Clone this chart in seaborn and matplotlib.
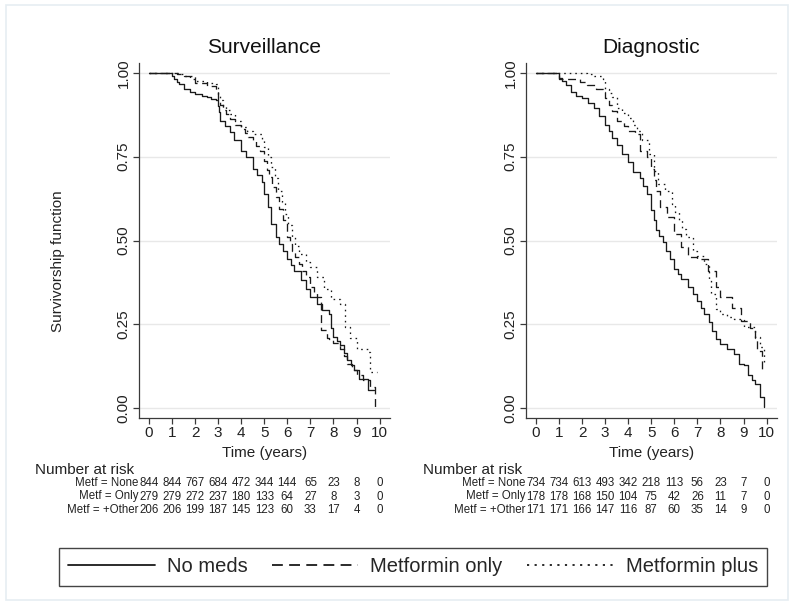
import numpy as np
import pandas as pd
import matplotlib
matplotlib.use('Agg')
import matplotlib.pyplot as plt
import matplotlib.transforms as mtrans
from matplotlib.patches import Rectangle
import seaborn as sns

# survival curves (step points: time in years, survivorship)
surv_none_t = [0, 1.0, 1.1, 1.2, 1.3, 1.5, 1.8, 2.0, 2.3, 2.5, 2.7, 2.9, 3.0, 3.05, 3.1, 3.3, 3.5, 3.7,
               4.0, 4.2, 4.5, 4.7, 4.9, 5.0, 5.15, 5.3, 5.5, 5.65, 5.8, 6.0, 6.15, 6.3, 6.6, 6.8, 7.0,
               7.3, 7.5, 7.8, 7.9, 8.0, 8.15, 8.3, 8.45, 8.6, 8.75, 8.9, 9.1, 9.5, 9.75]
surv_none_s = [1, 0.99, 0.98, 0.972, 0.965, 0.951, 0.944, 0.937, 0.932, 0.927, 0.923, 0.919, 0.90,
               0.882, 0.857, 0.84, 0.822, 0.80, 0.768, 0.75, 0.713, 0.695, 0.674, 0.639, 0.6, 0.55,
               0.51, 0.49, 0.47, 0.445, 0.428, 0.41, 0.381, 0.356, 0.331, 0.312, 0.292, 0.282, 0.24,
               0.212, 0.2, 0.188, 0.165, 0.143, 0.128, 0.113, 0.088, 0.054, 0.054]
surv_only_t = [0, 1.2, 1.5, 1.8, 2.0, 2.5, 2.9, 3.0, 3.1, 3.2, 3.35, 3.5, 3.75, 4.0, 4.15, 4.3, 4.5,
               4.65, 4.8, 5.0, 5.1, 5.2, 5.35, 5.5, 5.65, 5.8, 6.0, 6.1, 6.2, 6.35, 6.5, 6.65, 6.8,
               7.0, 7.15, 7.3, 7.45, 7.7, 7.8, 8.0, 8.3, 8.45, 8.6, 8.8, 9.0, 9.3, 9.6, 9.8]
surv_only_s = [1, 0.995, 0.99, 0.98, 0.97, 0.96, 0.95, 0.92, 0.905, 0.89, 0.876, 0.862, 0.845, 0.832,
               0.82, 0.807, 0.797, 0.782, 0.768, 0.738, 0.71, 0.688, 0.66, 0.629, 0.595, 0.56, 0.51,
               0.49, 0.47, 0.45, 0.43, 0.41, 0.39, 0.36, 0.345, 0.331, 0.232, 0.21, 0.205, 0.195,
               0.178, 0.155, 0.133, 0.115, 0.098, 0.083, 0.063, 0.0]
surv_plus_t = [0, 1.3, 1.5, 2.0, 2.5, 2.9, 3.0, 3.1, 3.2, 3.35, 3.5, 3.75, 4.0, 4.25, 4.5, 4.9, 5.0,
               5.15, 5.3, 5.45, 5.6, 5.75, 5.9, 6.05, 6.2, 6.35, 6.5, 6.8, 7.0, 7.3, 7.6, 7.9, 8.3,
               8.5, 8.7, 9.0, 9.5, 9.6, 9.9]
surv_plus_s = [1, 0.995, 0.99, 0.975, 0.97, 0.966, 0.937, 0.92, 0.90, 0.888, 0.877, 0.857, 0.837,
               0.827, 0.817, 0.80, 0.778, 0.75, 0.718, 0.685, 0.649, 0.615, 0.579, 0.545, 0.51,
               0.485, 0.46, 0.436, 0.42, 0.39, 0.356, 0.326, 0.31, 0.242, 0.21, 0.178, 0.168,
               0.108, 0.108]

diag_none_t = [0, 1.0, 1.15, 1.3, 1.5, 1.75, 2.0, 2.25, 2.5, 2.75, 3.0, 3.15, 3.3, 3.5, 3.75, 4.0,
               4.2, 4.5, 4.65, 4.8, 5.0, 5.1, 5.2, 5.35, 5.5, 5.65, 5.8, 6.0, 6.15, 6.3, 6.6, 6.8,
               7.0, 7.15, 7.3, 7.5, 7.65, 7.8, 8.0, 8.3, 8.6, 8.8, 9.0, 9.2, 9.35, 9.5, 9.7, 9.9]
diag_none_s = [1, 0.985, 0.975, 0.963, 0.943, 0.932, 0.924, 0.91, 0.894, 0.87, 0.844, 0.825, 0.804,
               0.784, 0.758, 0.734, 0.705, 0.685, 0.662, 0.64, 0.59, 0.56, 0.53, 0.512, 0.495, 0.47,
               0.445, 0.416, 0.4, 0.386, 0.361, 0.341, 0.321, 0.3, 0.282, 0.257, 0.23, 0.207, 0.192,
               0.178, 0.163, 0.133, 0.128, 0.098, 0.085, 0.073, 0.034, 0.004]
diag_only_t = [0, 1.0, 1.9, 2.2, 2.6, 2.9, 3.0, 3.15, 3.3, 3.5, 3.8, 4.0, 4.3, 4.5, 4.8, 5.0, 5.1,
               5.2, 5.4, 5.7, 6.0, 6.3, 6.6, 7.0, 7.45, 7.8, 8.0, 8.5, 8.9, 9.3, 9.5, 9.6, 9.8, 9.9]
diag_only_s = [1, 0.98, 0.973, 0.963, 0.953, 0.943, 0.924, 0.905, 0.887, 0.857, 0.842, 0.827, 0.817,
               0.768, 0.748, 0.713, 0.68, 0.649, 0.60, 0.569, 0.52, 0.48, 0.45, 0.446, 0.41, 0.36,
               0.331, 0.30, 0.26, 0.24, 0.21, 0.17, 0.113, 0.113]
diag_plus_t = [0, 2.2, 2.5, 2.9, 3.0, 3.15, 3.3, 3.5, 3.75, 4.0, 4.2, 4.4, 4.6, 4.9, 5.1, 5.3, 5.6,
               5.9, 6.05, 6.2, 6.35, 6.5, 6.8, 7.0, 7.3, 7.5, 7.6, 7.8, 8.0, 8.3, 8.6, 9.0, 9.5,
               9.7, 9.9]
diag_plus_s = [1, 0.995, 0.99, 0.98, 0.953, 0.94, 0.929, 0.894, 0.88, 0.864, 0.845, 0.827, 0.80,
               0.758, 0.708, 0.669, 0.649, 0.609, 0.585, 0.56, 0.535, 0.51, 0.47, 0.455, 0.43,
               0.381, 0.34, 0.297, 0.28, 0.272, 0.267, 0.242, 0.212, 0.183, 0.133]

groups = ['No meds', 'Metformin only', 'Metformin plus']
panels = ['Surveillance', 'Diagnostic']
risk_times = list(range(11))
risk_labels = ['Metf = None', 'Metf = Only', 'Metf = +Other']
risk_surv = [[844, 844, 767, 684, 472, 344, 144, 65, 23, 8, 0],
             [279, 279, 272, 237, 180, 133, 64, 27, 8, 3, 0],
             [206, 206, 199, 187, 145, 123, 60, 33, 17, 4, 0]]
risk_diag = [[734, 734, 613, 493, 342, 218, 113, 56, 23, 7, 0],
             [178, 178, 168, 150, 104, 75, 42, 26, 11, 7, 0],
             [171, 171, 166, 147, 116, 87, 60, 35, 14, 9, 0]]

curves = {
    'Surveillance': [(surv_none_t, surv_none_s), (surv_only_t, surv_only_s), (surv_plus_t, surv_plus_s)],
    'Diagnostic': [(diag_none_t, diag_none_s), (diag_only_t, diag_only_s), (diag_plus_t, diag_plus_s)],
}
rows = []
for panel in panels:
    for g, (t, s) in zip(groups, curves[panel]):
        rows += [dict(panel=panel, group=g, time=a, surv=b) for a, b in zip(t, s)]
df = pd.DataFrame(rows)

sns.set_style('white')
plt.rcParams['font.family'] = ['Liberation Sans', 'DejaVu Sans']
ink = '#1a1a1a'
dashes = {'No meds': '', 'Metformin only': (6, 3.5), 'Metformin plus': (1.2, 3.0)}

W, H = 794, 605
fig = plt.figure(figsize=(W / 100, H / 100), dpi=100)
fig.patches.append(Rectangle((6 / W, 5 / H), 782 / W, 595 / H, transform=fig.transFigure,
                             fill=False, edgecolor='#e6edf2', lw=1.2))

ax_l = fig.add_axes([139 / W, 1 - 418 / H, 251 / W, 355 / H])
ax_r = fig.add_axes([526 / W, 1 - 418 / H, 251 / W, 355 / H])

for ax, panel, risk in [(ax_l, 'Surveillance', risk_surv), (ax_r, 'Diagnostic', risk_diag)]:
    sns.lineplot(data=df[df.panel == panel], x='time', y='surv', style='group',
                 style_order=groups, dashes=dashes, color=ink, lw=0.95,
                 estimator=None, sort=False, drawstyle='steps-post', ax=ax,
                 legend=(panel == 'Surveillance'))
    ax.set_xlim(-0.43, 10.45)
    ax.set_ylim(-0.029, 1.029)
    ax.set_xticks(risk_times)
    ax.set_yticks([0, 0.25, 0.5, 0.75, 1.0])
    ax.set_yticklabels(['0.00', '0.25', '0.50', '0.75', '1.00'], rotation=90, va='center')
    ax.grid(axis='y', color='#e8e8e8', lw=1)
    ax.set_axisbelow(True)
    for sp in ['top', 'right']:
        ax.spines[sp].set_visible(False)
    for sp in ['left', 'bottom']:
        ax.spines[sp].set_color('#3a3a3a')
        ax.spines[sp].set_linewidth(0.9)
    ax.tick_params(axis='both', length=4, width=0.9, color='#3a3a3a', labelsize=11,
                   labelcolor='#222222', pad=2, direction='out', bottom=True, left=True)
    ax.set_xlabel('Time (years)', fontsize=11, labelpad=4, color='#222222')
    ax.set_ylabel('')
    ax.set_title(panel, fontsize=15, pad=7, color='#111111')

    # number at risk table
    tr = mtrans.blended_transform_factory(ax.transData, fig.transFigure)
    for r, (lab, vals) in enumerate(zip(risk_labels, risk)):
        yy = 1 - (483 + 13.5 * r) / H
        ax.text(-0.45, yy, lab, transform=tr, ha='right', va='center', fontsize=8.3,
                color='#222222')
        for t, v in zip(risk_times, vals):
            ax.text(t, yy, str(v), transform=tr, ha='center', va='center', fontsize=8.3,
                    color='#222222')

fig.text(35 / W, 1 - 470 / H, 'Number at risk', fontsize=11, ha='left', va='center', color='#222222')
fig.text(423 / W, 1 - 470 / H, 'Number at risk', fontsize=11, ha='left', va='center', color='#222222')
fig.text(58 / W, 1 - 261 / H, 'Survivorship function', fontsize=11, rotation=90,
         ha='center', va='center', color='#222222')

leg = ax_l.get_legend()
handles = leg.legend_handles
labels = [t.get_text() for t in leg.get_texts()]
leg.remove()
for h in handles:
    h.set_linewidth(1.3)
    h.set_color(ink)
fig.legend(handles, labels, loc='center', bbox_to_anchor=(413 / W, 1 - 567 / H), ncol=3,
           fontsize=14.5, frameon=True, fancybox=False, edgecolor='#444444',
           handlelength=4.3, handletextpad=0.6, columnspacing=1.2, borderpad=0.45,
           framealpha=1)

fig.savefig('out.png', dpi=100)
